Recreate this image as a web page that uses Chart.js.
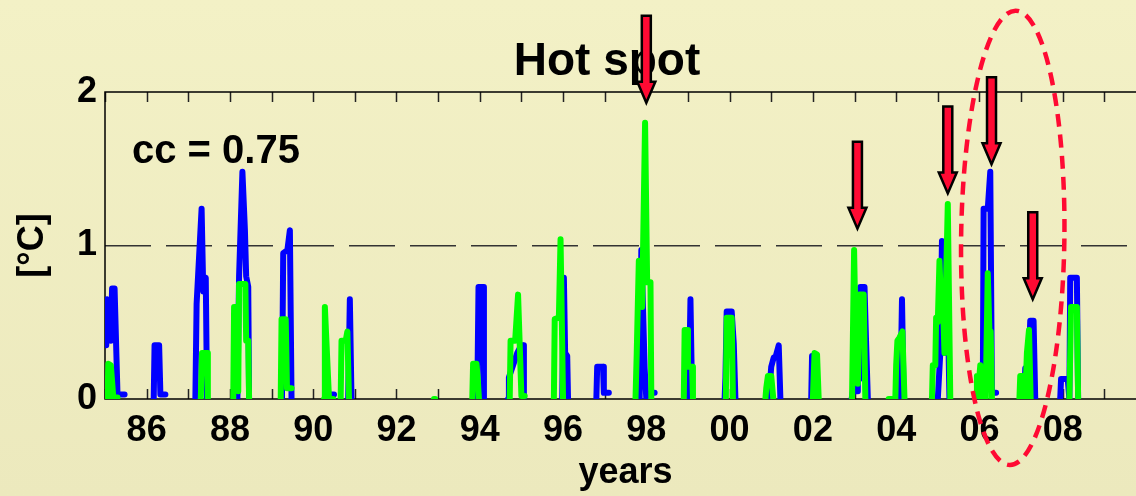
<!DOCTYPE html>
<html>
<head>
<meta charset="utf-8">
<title>Hot spot</title>
<script src="https://cdn.jsdelivr.net/npm/chart.js@4.4.1/dist/chart.umd.min.js"></script>
<style>
    html, body { margin: 0; padding: 0; overflow: hidden; }
    body { width: 1136px; height: 496px; background: linear-gradient(#f3f1c6, #ece9bd); }
    #wrap { width: 1180px; height: 496px; }
</style>
</head>
<body>
<div id="wrap"><canvas id="hotspot" width="1180" height="496"></canvas></div>
<script>
// Hot spot series (null = no data, breaks the line)
const blueYears = [
    1985.03, 1985.05, 1985.12, 1985.14, 1985.17, 1985.23, 1985.30, 1985.47, null,
    1986.17, 1986.19, 1986.30, 1986.33, 1986.45, null,
    1987.17, 1987.20, 1987.32, 1987.36, 1987.42, 1987.45, null,
    1988.18, 1988.22, 1988.30, 1988.36, 1988.39, 1988.44, 1988.46, null,
    1989.25, 1989.28, 1989.38, 1989.44, 1989.48, null,
    1990.43, 1990.50, null,
    1990.84, 1990.88, 1990.92, null,
    1993.94, 1993.97, 1994.08, 1994.10, null,
    1994.68, 1994.70, 1994.90, 1995.00, 1995.04, 1995.06, null,
    1995.98, 1996.02, 1996.05, 1996.10, 1996.12, null,
    1996.80, 1996.82, 1996.96, 1996.98, 1997.10, null,
    1997.84, 1997.88, 1997.92, 1997.96, 1998.00, null,
    1998.12, 1998.20, null,
    1999.02, 1999.06, 1999.10, null,
    1999.88, 1999.90, 1999.93, 2000.05, 2000.10, 2000.14, null,
    2000.95, 2000.98, 2001.00, 2001.06, 2001.10, 2001.18, 2001.22, null,
    2001.96, 2001.98, 2002.00, null,
    2002.93, 2002.96, 2003.06, 2003.08, 2003.12, 2003.14, 2003.24, 2003.28, 2003.32, null,
    2004.10, 2004.14, 2004.18, null,
    2005.00, 2005.06, 2005.10, 2005.14, 2005.18, 2005.22, 2005.28, null,
    2006.08, 2006.10, 2006.20, 2006.26, 2006.30, 2006.40, null,
    2007.08, 2007.10, 2007.18, 2007.22, 2007.30, 2007.34, null,
    2007.94, 2007.96, 2008.12, 2008.16, 2008.18, 2008.34, 2008.37
];
const blueTemp = [
    0.35, 0.65, 0.63, 0.38, 0.72, 0.72, 0.03, 0.03, null,
    0.00, 0.35, 0.35, 0.03, 0.03, null,
    0.00, 0.62, 1.24, 0.70, 0.79, 0.00, null,
    0.00, 0.80, 1.48, 1.10, 0.80, 0.73, 0.00, null,
    0.00, 0.95, 0.97, 1.10, 0.00, null,
    0.03, 0.03, null,
    0.00, 0.65, 0.00, null,
    0.00, 0.73, 0.73, 0.00, null,
    0.00, 0.14, 0.30, 0.35, 0.35, 0.00, null,
    0.00, 0.79, 0.30, 0.28, 0.00, null,
    0.00, 0.21, 0.21, 0.04, 0.04, null,
    0.00, 0.97, 0.60, 0.20, 0.00, null,
    0.04, 0.04, null,
    0.00, 0.65, 0.00, null,
    0.00, 0.14, 0.57, 0.57, 0.36, 0.00, null,
    0.00, 0.14, 0.21, 0.27, 0.27, 0.35, 0.00, null,
    0.00, 0.28, 0.00, null,
    0.00, 0.05, 0.05, 0.13, 0.13, 0.73, 0.73, 0.35, 0.00, null,
    0.00, 0.65, 0.00, null,
    0.00, 0.30, 1.03, 1.00, 0.30, 0.90, 0.00, null,
    0.00, 1.24, 1.24, 1.48, 0.04, 0.04, null,
    0.00, 0.20, 0.20, 0.51, 0.51, 0.00, null,
    0.00, 0.13, 0.13, 0.00, 0.79, 0.79, 0.00
];

const greenYears = [
    1985.06, 1985.08, 1985.14, 1985.20, 1985.30, null,
    1987.30, 1987.33, 1987.45, 1987.47, null,
    1988.08, 1988.10, 1988.17, 1988.20, 1988.22, 1988.37, 1988.39, 1988.44, 1988.46, null,
    1989.22, 1989.24, 1989.34, 1989.37, 1989.48, null,
    1990.26, 1990.28, 1990.38, 1990.48, null,
    1990.66, 1990.68, 1990.78, 1990.82, 1990.86, null,
    1992.90, 1992.93, null,
    1993.82, 1993.84, 1993.92, 1993.95, 1993.98, null,
    1994.72, 1994.74, 1994.85, 1994.92, 1994.96, 1995.00, 1995.08, null,
    1995.78, 1995.80, 1995.90, 1995.94, 1996.00, null,
    1997.74, 1997.77, 1997.82, 1997.88, 1997.90, 1997.97, 1998.02, 1998.10, 1998.12, null,
    1998.90, 1998.92, 1998.98, 1999.00, 1999.10, 1999.12, null,
    1999.91, 1999.93, 2000.05, 2000.08, null,
    2000.86, 2000.88, 2000.92, 2001.00, 2001.05, null,
    2002.00, 2002.04, 2002.10, 2002.14, null,
    2002.94, 2002.99, 2003.02, 2003.05, 2003.08, 2003.12, 2003.22, 2003.26, null,
    2003.82, 2003.90, null,
    2003.98, 2004.00, 2004.03, 2004.08, 2004.15, 2004.20, null,
    2004.86, 2004.88, 2004.94, 2004.96, 2005.00, 2005.04, 2005.08, 2005.11, 2005.16, 2005.24, 2005.30, null,
    2005.92, 2005.94, 2006.00, 2006.02, 2006.05, 2006.15, 2006.20, 2006.24, 2006.27, 2006.30, null,
    2006.96, 2006.98, 2007.05, 2007.10, 2007.14, 2007.19, 2007.23, null,
    2008.16, 2008.20, 2008.34, 2008.37
];
const greenTemp = [
    0.00, 0.23, 0.22, 0.01, 0.01, null,
    0.00, 0.30, 0.30, 0.00, null,
    0.00, 0.60, 0.60, 0.05, 0.75, 0.75, 0.38, 0.38, 0.00, null,
    0.00, 0.52, 0.52, 0.07, 0.07, null,
    0.00, 0.60, 0.00, 0.00, null,
    0.00, 0.38, 0.38, 0.44, 0.00, null,
    0.00, 0.00, null,
    0.00, 0.23, 0.23, 0.14, 0.00, null,
    0.00, 0.38, 0.38, 0.68, 0.35, 0.02, 0.02, null,
    0.00, 0.52, 0.53, 1.04, 0.00, null,
    0.00, 0.30, 0.90, 0.88, 0.60, 1.80, 0.76, 0.76, 0.00, null,
    0.00, 0.45, 0.45, 0.21, 0.21, 0.00, null,
    0.00, 0.53, 0.53, 0.00, null,
    0.00, 0.07, 0.15, 0.15, 0.00, null,
    0.00, 0.30, 0.29, 0.00, null,
    0.00, 0.97, 0.50, 0.68, 0.10, 0.68, 0.68, 0.00, null,
    0.00, 0.00, null,
    0.00, 0.22, 0.38, 0.40, 0.44, 0.00, null,
    0.00, 0.22, 0.22, 0.53, 0.50, 0.90, 0.60, 0.76, 0.30, 1.27, 0.00, null,
    0.00, 0.15, 0.15, 0.22, 0.00, 0.00, 0.82, 0.44, 0.44, 0.00, null,
    0.00, 0.15, 0.15, 0.00, 0.30, 0.45, 0.00, null,
    0.00, 0.60, 0.60, 0.00
];

// axis
const yearMin = 1985;
const yearMax = 2010;
const tempTicks = [0, 1, 2];

// red arrows (tip position in data units) and the dashed ellipse
const arrowYears = [1998.00, 2003.07, 2005.24, 2006.29, 2007.28];
const arrowTips = [1.91, 1.09, 1.32, 1.51, 0.63];
const ellipseCenter = [2006.80, 1.05];
const ellipseRadius = [1.24, 1.48];

const RED = '#ff0a33';
const FONT = "'Liberation Sans', Arial, Helvetica, sans-serif";
Chart.defaults.font.family = FONT;

function toPoints(years, temps) {
    let last = years[0];
    return years.map((yr, i) => {
        if (yr !== null) last = yr;
        return { x: last, y: temps[i] };
    });
}

function drawArrow(ctx, x, tipY) {
    const tip = tipY - 3, len = 87, head = 21, hw = 9, sw = 4.5;
    ctx.beginPath();
    ctx.moveTo(x - sw, tip - len);
    ctx.lineTo(x + sw, tip - len);
    ctx.lineTo(x + sw, tip - head);
    ctx.lineTo(x + hw, tip - head);
    ctx.lineTo(x, tip);
    ctx.lineTo(x - hw, tip - head);
    ctx.lineTo(x - sw, tip - head);
    ctx.closePath();
    ctx.fillStyle = RED;
    ctx.fill();
    ctx.lineWidth = 2.5;
    ctx.lineJoin = 'miter';
    ctx.strokeStyle = '#000';
    ctx.stroke();
}

const decorations = {
    id: 'decorations',
    beforeDatasetsDraw(chart) {
        const { ctx, chartArea: a } = chart;
        const xs = chart.scales.x;
        ctx.save();
        // inward tick marks, top and bottom
        ctx.strokeStyle = '#222';
        ctx.lineWidth = 1.5;
        xs.ticks.forEach(t => {
            const px = Math.round(xs.getPixelForValue(t.value)) + 0.5;
            ctx.beginPath();
            ctx.moveTo(px, a.bottom);
            ctx.lineTo(px, a.bottom - 10);
            ctx.moveTo(px, a.top);
            ctx.lineTo(px, a.top + 10);
            ctx.stroke();
        });
        // frame
        ctx.strokeStyle = '#000';
        ctx.lineWidth = 1.5;
        ctx.strokeRect(a.left, a.top, a.right - a.left, a.bottom - a.top);
        ctx.restore();
    },
    afterDraw(chart) {
        const { ctx } = chart;
        const xs = chart.scales.x, ys = chart.scales.y;
        ctx.save();

        ctx.fillStyle = '#000';
        ctx.textBaseline = 'alphabetic';
        ctx.font = `bold 46px ${FONT}`;
        ctx.textAlign = 'center';
        ctx.fillText('Hot spot', 607, 75);
        ctx.font = `bold 40px ${FONT}`;
        ctx.textAlign = 'left';
        ctx.fillText('cc = 0.75', 132, 163);

        // dashed ellipse
        const cx = xs.getPixelForValue(ellipseCenter[0]);
        const cy = ys.getPixelForValue(ellipseCenter[1]);
        const rx = xs.getPixelForValue(ellipseCenter[0] + ellipseRadius[0]) - cx;
        const ry = cy - ys.getPixelForValue(ellipseCenter[1] + ellipseRadius[1]);
        ctx.beginPath();
        ctx.ellipse(cx, cy, rx, ry, 0.013, 0, Math.PI * 2);
        ctx.setLineDash([13, 8]);
        ctx.lineWidth = 4.5;
        ctx.strokeStyle = RED;
        ctx.stroke();
        ctx.setLineDash([]);

        arrowYears.forEach((yr, i) => {
            drawArrow(ctx, xs.getPixelForValue(yr), ys.getPixelForValue(arrowTips[i]));
        });
        ctx.restore();
    }
};

new Chart(document.getElementById('hotspot'), {
    type: 'line',
    data: {
        datasets: [{
            label: 'green',
            data: toPoints(greenYears, greenTemp),
            borderColor: '#00ff00',
            borderWidth: 6
        }, {
            label: 'blue',
            data: toPoints(blueYears, blueTemp),
            borderColor: '#0000ff',
            borderWidth: 6
        }]
    },
    options: {
        responsive: false,
        animation: false,
        events: [],
        spanGaps: false,
        elements: {
            point: { radius: 0 },
            line: { tension: 0, borderJoinStyle: 'round', borderCapStyle: 'round', fill: false }
        },
        layout: { padding: { left: 0, top: 92, right: 34, bottom: 0 } },
        plugins: {
            legend: { display: false },
            tooltip: { enabled: false },
            title: { display: false }
        },
        scales: {
            x: {
                type: 'linear',
                min: yearMin,
                max: yearMax,
                border: { display: false },
                grid: { display: false, drawTicks: false },
                ticks: {
                    stepSize: 1,
                    autoSkip: false,
                    maxRotation: 0,
                    minRotation: 0,
                    padding: 10,
                    color: '#000',
                    font: { size: 36, weight: 'bold' },
                    callback: v => (v % 2 === 0 && v < yearMax) ? String(v % 100).padStart(2, '0') : ''
                },
                title: {
                    display: true,
                    text: 'years',
                    color: '#000',
                    font: { size: 36, weight: 'bold' },
                    padding: { top: 0, bottom: 1 }
                },
                afterFit: s => { s.height = 97; }
            },
            y: {
                min: 0,
                max: 2,
                afterBuildTicks: s => { s.ticks = tempTicks.map(v => ({ value: v })); },
                border: { display: false, dash: [46, 15] },
                grid: {
                    drawTicks: false,
                    lineWidth: 1.5,
                    color: c => c.tick && c.tick.value === 1 ? '#333' : 'rgba(0,0,0,0)'
                },
                ticks: {
                    padding: 8,
                    color: '#000',
                    font: { size: 36, weight: 'bold' }
                },
                title: {
                    display: true,
                    text: '[°C]',
                    color: '#000',
                    font: { size: 36, weight: 'bold' },
                    padding: { top: 11, bottom: 0 }
                },
                afterFit: s => { s.width = 105; }
            }
        }
    },
    plugins: [decorations]
});
</script>
</body>
</html>
